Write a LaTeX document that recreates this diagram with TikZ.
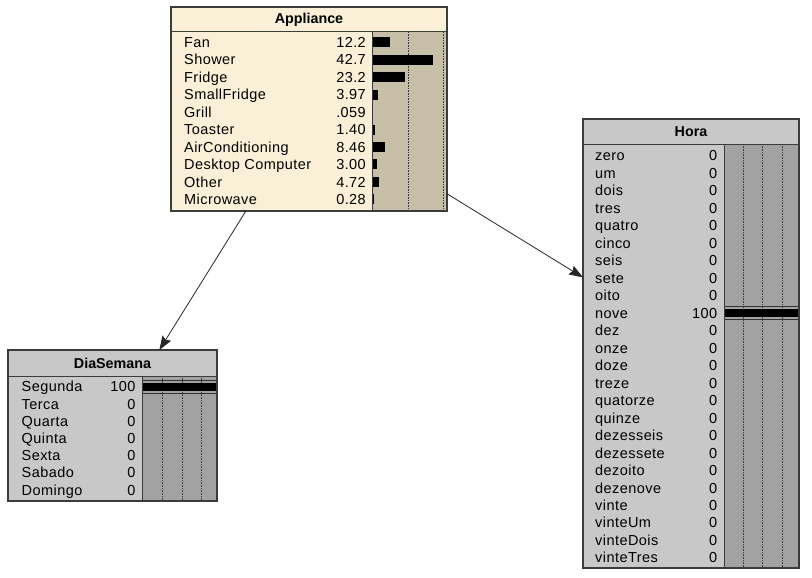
\documentclass[tikz,border=0pt]{standalone}
\usepackage{fontspec}
\setmainfont{Liberation Sans}
\usetikzlibrary{arrows.meta,calc,positioning}
\definecolor{creambody}{HTML}{FAF0D7}
\definecolor{creambar}{HTML}{C8BFA8}
\definecolor{greybody}{HTML}{C8C8C8}
\definecolor{greybar}{HTML}{A2A2A2}
\definecolor{framegrey}{HTML}{3C3C3C}
\newcommand{\rowfont}{\fontsize{14.5}{17}\selectfont\addfontfeature{LetterSpace=3}}
\tikzstyle{netnode}=[
  draw=framegrey,
  line width=1.2pt,
  rectangle,
  inner sep=0pt,
  outer sep=0pt,
]
\tikzstyle{nodetitle}=[
  font={\fontsize{14.3}{17}\selectfont\bfseries},
  inner sep=0pt,
]
\tikzstyle{statename}=[
  font=\rowfont,
  inner sep=0pt,
  anchor=base west,
]
\tikzstyle{statevalue}=[
  font=\rowfont,
  inner sep=0pt,
  anchor=base east,
]
\tikzstyle{divider}=[
  draw=framegrey,
  line width=1pt,
]
\tikzstyle{gridline}=[
  draw=black!75,
  line width=0.6pt,
  densely dotted,
]
\tikzstyle{probbar}=[
  fill=black,
]
\tikzstyle{fullline}=[
  draw=black!80,
  line width=0.8pt,
]
\tikzstyle{arrow}=[
  draw=black!85,
  line width=0.8pt,
]
\tikzset{
  >={Stealth[length=14pt,width=10pt,inset=2pt]},
}
\begin{document}
\begin{tikzpicture}[x=1pt,y=-1pt]
  \useasboundingbox (0,0) rectangle (812,578);
  %% Appliance
  \node (appliance) [netnode, fill=creambody, minimum width=276pt, minimum height=204pt] at (309,109) {};
  \fill [creambar] (372,32) rectangle (446.4,210.4);
  \foreach \gx in {408,443}
    \draw [gridline] (\gx,32) -- (\gx,210.4);
  \draw [divider] (171,32) -- (447,32);
  \draw [divider] (372,32) -- (372,211);
  \node (appliance-title) [nodetitle] at (309,19.5) {Appliance};
  \foreach \sname/\sval/\blen [count=\i] in {Fan/12.2/17.3, Shower/42.7/60.6,
      Fridge/23.2/32.9, SmallFridge/3.97/5.6, Grill/.059/0, Toaster/1.40/2.0,
      AirConditioning/8.46/12.0, Desktop Computer/3.00/4.3, Other/4.72/6.7,
      Microwave/0.28/0.4} {
    \pgfmathsetmacro{\ry}{42.3+(\i-1)*17.45}
    \node (appliance-name-\i) [statename] at (184,\ry+5.2) {\sname};
    \node (appliance-val-\i) [statevalue] at (366,\ry+5.2) {\sval};
    \fill [probbar] (372.5,\ry-5) rectangle ++(\blen,10);
  }
  %% DiaSemana
  \node (diasemana) [netnode, fill=greybody, minimum width=209pt, minimum height=151pt] at (112.5,425.5) {};
  \fill [greybar] (142,376) rectangle (216.4,500.4);
  \foreach \gx in {162,182,201}
    \draw [gridline] (\gx,376) -- (\gx,500.4);
  \draw [divider] (8,376) -- (217,376);
  \draw [divider] (142,376) -- (142,501);
  \node (diasemana-title) [nodetitle] at (112.5,363) {DiaSemana};
  \foreach \sname/\sval [count=\i] in {Segunda/100, Terca/0, Quarta/0,
      Quinta/0, Sexta/0, Sabado/0, Domingo/0} {
    \pgfmathsetmacro{\ry}{386.7+(\i-1)*17.2}
    \node (diasemana-name-\i) [statename] at (21.5,\ry+5.2) {\sname};
    \node (diasemana-val-\i) [statevalue] at (135.7,\ry+5.2) {\sval};
    \ifnum\sval=100
      \fill [probbar] (142.5,\ry-4.2) rectangle (216.4,\ry+4.2);
      \draw [fullline] (142.5,\ry-6.5) -- (216.4,\ry-6.5);
      \draw [fullline] (142.5,\ry+6.5) -- (216.4,\ry+6.5);
    \fi
  }
  %% Hora
  \node (hora) [netnode, fill=greybody, minimum width=216pt, minimum height=449pt] at (691,343.5) {};
  \fill [greybar] (724,144) rectangle (798.4,567.4);
  \foreach \gx in {743,762,782}
    \draw [gridline] (\gx,144) -- (\gx,567.4);
  \draw [divider] (583,144) -- (799,144);
  \draw [divider] (724,144) -- (724,568);
  \node (hora-title) [nodetitle] at (691,131.5) {Hora};
  \foreach \sname/\sval [count=\i] in {zero/0, um/0, dois/0, tres/0, quatro/0,
      cinco/0, seis/0, sete/0, oito/0, nove/100, dez/0, onze/0, doze/0,
      treze/0, quatorze/0, quinze/0, dezesseis/0, dezessete/0, dezoito/0,
      dezenove/0, vinte/0, vinteUm/0, vinteDois/0, vinteTres/0} {
    \pgfmathsetmacro{\ry}{155.7+(\i-1)*17.48}
    \node (hora-name-\i) [statename] at (595,\ry+5.2) {\sname};
    \node (hora-val-\i) [statevalue] at (717.3,\ry+5.2) {\sval};
    \ifnum\sval=100
      \fill [probbar] (724.5,\ry-4.2) rectangle (798.4,\ry+4.2);
      \draw [fullline] (724.5,\ry-6.3) -- (798.4,\ry-6.3);
      \draw [fullline] (724.5,\ry+6.3) -- (798.4,\ry+6.3);
    \fi
  }
  %% links
  \draw [->, arrow] (appliance) -- (diasemana);
  \draw [->, arrow] (appliance) -- (hora);
\end{tikzpicture}
\end{document}
